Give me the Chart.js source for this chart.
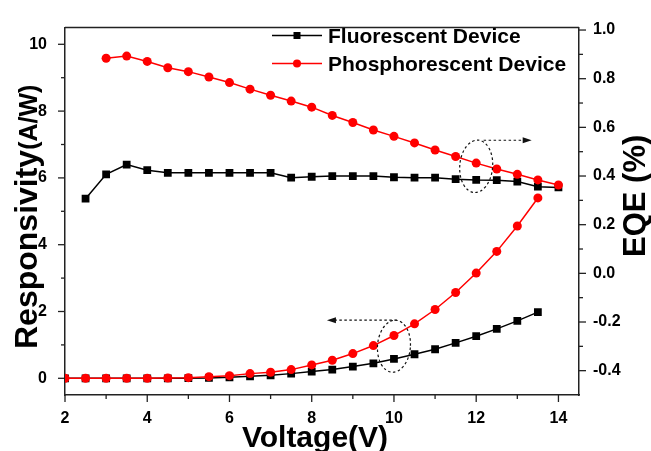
<!DOCTYPE html>
<html><head><meta charset="utf-8">
<script src="https://cdn.jsdelivr.net/npm/chart.js@4.4.1/dist/chart.umd.min.js"></script>
<style>html,body{margin:0;padding:0;background:#fff}canvas{display:block}</style>
</head><body>
<canvas id="c" width="651" height="451"></canvas>
<script>
// ---- data ----
const respVoltage = [2,2.5,3,3.5,4,4.5,5,5.5,6,6.5,7,7.5,8,8.5,9,9.5,10,10.5,11,11.5,12,12.5,13,13.5];
const respFluor   = [0,0,0,0,0,0,0.005,0.01,0.03,0.06,0.09,0.14,0.2,0.26,0.35,0.45,0.58,0.72,0.87,1.06,1.26,1.48,1.72,1.98];
const respPhos    = [0,0,0,0,0,0.01,0.02,0.05,0.08,0.14,0.18,0.26,0.40,0.54,0.74,0.98,1.28,1.63,2.06,2.57,3.15,3.80,4.56,5.40];

const eqeVoltageFluor = [2.5,3,3.5,4,4.5,5,5.5,6,6.5,7,7.5,8,8.5,9,9.5,10,10.5,11,11.5,12,12.5,13,13.5,14];
const eqeFluor        = [0.307,0.407,0.447,0.424,0.413,0.413,0.413,0.413,0.413,0.413,0.393,0.397,0.40,0.40,0.40,0.395,0.393,0.393,0.387,0.384,0.383,0.377,0.356,0.353];
const eqeVoltagePhos  = [3,3.5,4,4.5,5,5.5,6,6.5,7,7.5,8,8.5,9,9.5,10,10.5,11,11.5,12,12.5,13,13.5,14];
const eqePhos         = [0.884,0.893,0.871,0.845,0.829,0.807,0.784,0.757,0.732,0.708,0.683,0.649,0.62,0.589,0.563,0.536,0.507,0.48,0.453,0.429,0.407,0.384,0.363];

const seriesNames = ['Fluorescent Device','Phosphorescent Device'];
const xTicks     = [2,4,6,8,10,12,14];
const leftTicks  = [0,2,4,6,8,10];
const rightTicks = [-0.4,-0.2,0.0,0.2,0.4,0.6,0.8,1.0];
const xTitle = 'Voltage(V)';
const leftTitle = ['Responsivity','(A/W)'];
const rightTitle = 'EQE (%)';

const FONT = "'Liberation Sans', Arial, sans-serif";
const pts = (xs, ys) => xs.map((x,i)=>({x, y: ys[i]}));

function mkDs(label, data, axis, color, style, r, order){
  return {label, data, yAxisID: axis, borderColor: color, backgroundColor: color,
    borderWidth: 1.5, pointStyle: style, pointRadius: r, pointHoverRadius: r,
    pointBorderWidth: 0, tension: 0, order, showLine: true, fill: false};
}

const decor = {
  id: 'decor',
  afterDraw(chart){
    const ctx = chart.ctx, a = chart.chartArea;
    const sx = chart.scales.x, sl = chart.scales.y, sr = chart.scales.y1;
    ctx.save();
    // top frame
    ctx.strokeStyle = '#222'; ctx.lineWidth = 1.5;
    ctx.beginPath(); ctx.moveTo(a.left, a.top); ctx.lineTo(a.right, a.top); ctx.stroke();
    // ticks (major + minor)
    ctx.lineWidth = 1.3;
    for (let v = 2; v <= 14; v++) {
      const p = sx.getPixelForValue(v), L = (v % 2 === 0) ? 7 : 4;
      ctx.beginPath(); ctx.moveTo(p, a.bottom); ctx.lineTo(p, a.bottom + L); ctx.stroke();
    }
    for (let v = 0; v <= 10; v++) {
      const p = sl.getPixelForValue(v), L = (v % 2 === 0) ? 7 : 4;
      ctx.beginPath(); ctx.moveTo(a.left, p); ctx.lineTo(a.left - L, p); ctx.stroke();
    }
    for (let k = -4; k <= 10; k++) {
      const p = sr.getPixelForValue(k / 10), L = (k % 2 === 0) ? 7 : 4;
      ctx.beginPath(); ctx.moveTo(a.right, p); ctx.lineTo(a.right + L, p); ctx.stroke();
    }
    // dotted ellipses + arrows
    ctx.strokeStyle = '#111'; ctx.fillStyle = '#111'; ctx.lineWidth = 1.2; ctx.setLineDash([2.5, 2.5]);
    function ellipse(cx, cy, rxv, ryv, ys){
      const X = sx.getPixelForValue(cx), Y = ys.getPixelForValue(cy);
      const rx = Math.abs(sx.getPixelForValue(cx + rxv) - X), ry = Math.abs(ys.getPixelForValue(cy + ryv) - Y);
      ctx.beginPath(); ctx.ellipse(X, Y, rx, ry, 0.08, 0, Math.PI * 2); ctx.stroke();
    }
    function arrow(x0, x1, yv, ys){
      const X0 = sx.getPixelForValue(x0), X1 = sx.getPixelForValue(x1), Y = ys.getPixelForValue(yv);
      const dir = Math.sign(X1 - X0);
      ctx.beginPath(); ctx.moveTo(X0, Y); ctx.lineTo(X1 - dir * 8, Y); ctx.stroke();
      ctx.beginPath(); ctx.moveTo(X1, Y); ctx.lineTo(X1 - dir * 9, Y - 3); ctx.lineTo(X1 - dir * 9, Y + 3); ctx.closePath(); ctx.fill();
    }
    ellipse(12.0, 0.44, 0.4, 0.108, sr);
    arrow(12.18, 13.35, 0.547, sr);
    ellipse(10.0, 0.96, 0.4, 0.78, sl);
    arrow(10.07, 8.37, 1.74, sl);
    ctx.setLineDash([]);
    // legend
    const ds = chart.data.datasets;
    [0,1].forEach((i, row) => {
      const y = 35.5 + row * 28;
      ctx.strokeStyle = ds[i].borderColor; ctx.fillStyle = ds[i].borderColor; ctx.lineWidth = 1.5;
      ctx.beginPath(); ctx.moveTo(272, y); ctx.lineTo(322, y); ctx.stroke();
      if (ds[i].pointStyle === 'rect') ctx.fillRect(297 - 3.5, y - 3.5, 7, 7);
      else { ctx.beginPath(); ctx.arc(297, y, 4, 0, Math.PI * 2); ctx.fill(); }
      ctx.fillStyle = '#000'; ctx.font = 'bold 21px ' + FONT; ctx.textAlign = 'left'; ctx.textBaseline = 'alphabetic';
      ctx.fillText(ds[i].label, 328, y + 7);
    });
    // axis titles
    ctx.fillStyle = '#000';
    ctx.font = 'bold 30px ' + FONT; ctx.textAlign = 'center'; ctx.textBaseline = 'alphabetic';
    ctx.fillText(xTitle, 315, 447);
    ctx.save();
    ctx.translate(37, 349); ctx.rotate(-Math.PI / 2); ctx.textAlign = 'left';
    ctx.font = 'bold 32px ' + FONT; ctx.fillText(leftTitle[0], 0, 0);
    const w = ctx.measureText(leftTitle[0]).width;
    ctx.font = 'bold 25px ' + FONT; ctx.fillText(leftTitle[1], w, 0);
    ctx.restore();
    ctx.save();
    ctx.translate(645, 257); ctx.rotate(-Math.PI / 2); ctx.textAlign = 'left';
    ctx.font = 'bold 31px ' + FONT; ctx.fillText(rightTitle, 0, 0);
    ctx.restore();
    ctx.restore();
  }
};

const tickFont = {family: FONT, weight: 'bold', size: 16};
new Chart(document.getElementById('c'), {
  type: 'line',
  data: { datasets: [
    mkDs(seriesNames[0], pts(eqeVoltageFluor, eqeFluor), 'y1', '#000000', 'rect', 5.5, 3),
    mkDs(seriesNames[1], pts(eqeVoltagePhos, eqePhos),   'y1', '#ff0000', 'circle', 4.5, 2),
    mkDs(seriesNames[0], pts(respVoltage, respFluor),    'y',  '#000000', 'rect', 5.5, 1),
    mkDs(seriesNames[1], pts(respVoltage, respPhos),     'y',  '#ff0000', 'circle', 4.5, 0)
  ]},
  options: {
    responsive: false, animation: false, devicePixelRatio: 1,
    layout: { padding: { top: 17, left: 0, right: 0, bottom: 0 } },
    plugins: { legend: { display: false }, tooltip: { enabled: false } },
    scales: {
      x: { type: 'linear', min: 2, max: 14.5, position: 'bottom',
        afterBuildTicks: s => { s.ticks = xTicks.map(v => ({value: v})); },
        afterFit: s => { s.height = 56; },
        grid: { display: false, drawTicks: false },
        border: { display: true, color: '#222', width: 1.5 },
        ticks: { font: tickFont, color: '#000', padding: 14, maxRotation: 0, autoSkip: false,
          callback: v => String(v) } },
      y: { type: 'linear', min: -0.5, max: 10.5, position: 'left',
        afterBuildTicks: s => { s.ticks = leftTicks.map(v => ({value: v})); },
        afterFit: s => { s.width = 65; },
        grid: { display: false, drawTicks: false },
        border: { display: true, color: '#222', width: 1.5 },
        ticks: { font: tickFont, color: '#000', padding: 18, autoSkip: false, callback: v => String(v) } },
      y1: { type: 'linear', min: -0.5, max: 1.01, position: 'right',
        afterBuildTicks: s => { s.ticks = rightTicks.map(v => ({value: v})); },
        afterFit: s => { s.width = 72; },
        grid: { display: false, drawTicks: false },
        border: { display: true, color: '#222', width: 1.5 },
        ticks: { font: tickFont, color: '#000', padding: 14, autoSkip: false, callback: v => Number(v).toFixed(1) } }
    }
  },
  plugins: [decor]
});
</script>
</body></html>
